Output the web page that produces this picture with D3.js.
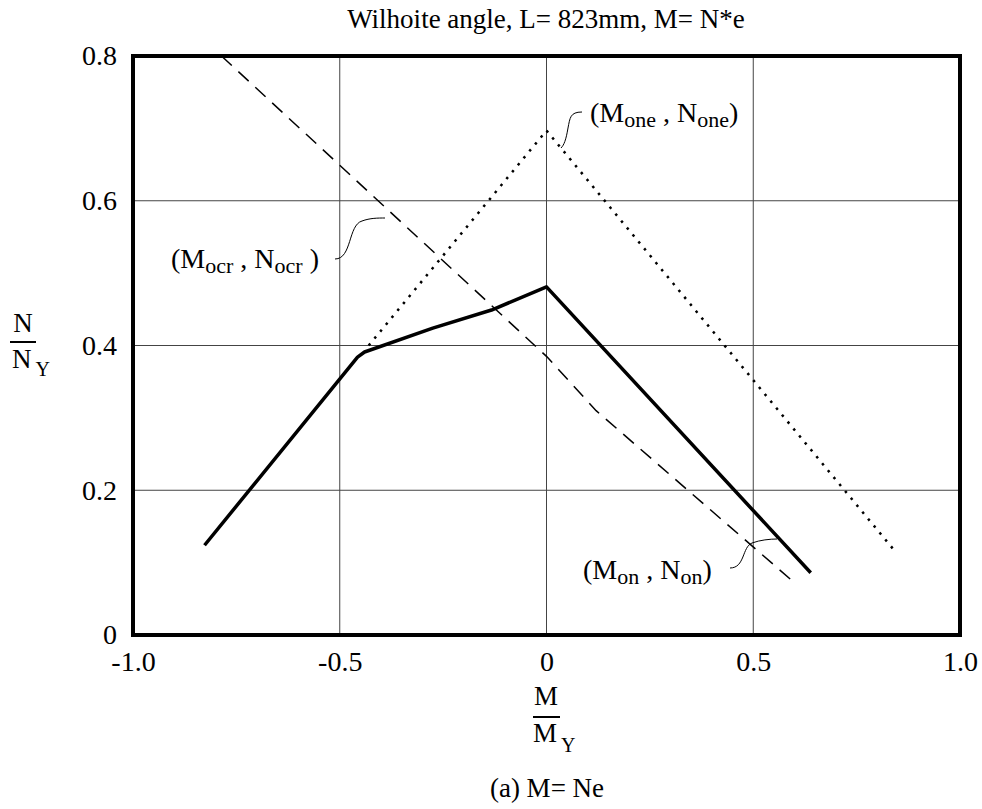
<!DOCTYPE html>
<html>
<head>
<meta charset="utf-8">
<script src="https://cdn.jsdelivr.net/npm/d3@7"></script>
<style>
  body { margin: 0; background: #fff; }
  text { font-family: "Liberation Serif", "Times New Roman", serif; fill: #000; }
</style>
</head>
<body>
<div id="chart"></div>
<script>
// data (M/My, N/Ny)
const xTicks = [-1, -0.5, 0, 0.5, 1];
const xTickLabels = ["-1.0", "-0.5", "0", "0.5", "1.0"];
const yTicks = [0, 0.2, 0.4, 0.6, 0.8];
const yTickLabels = ["0", "0.2", "0.4", "0.6", "0.8"];

// solid: interaction curve
const solidM = [-0.827, -0.457, -0.44, -0.275, -0.133, 0, 0.639];
const solidN = [0.124, 0.384, 0.391, 0.424, 0.449, 0.481, 0.086];
// dashed: (Mocr, Nocr) / (Mon, Non)
const dashM = [-0.786, 0, 0.12, 0.59];
const dashN = [0.8, 0.385, 0.31, 0.077];
// dotted: (Mone, None)
const dotM = [-0.43, 0, 0.841];
const dotN = [0.4, 0.697, 0.117];

const WIDTH = 982;
const HEIGHT = 809;

const svg = d3.select("#chart").append("svg")
  .attr("width", WIDTH)
  .attr("height", HEIGHT);

const x = d3.scaleLinear().domain([-1, 1]).range([133, 960]);
const y = d3.scaleLinear().domain([0, 0.8]).range([635, 56]);

// grid
svg.append("g")
  .selectAll("line.vg")
  .data(xTicks.slice(1, -1))
  .join("line")
  .attr("x1", d => x(d)).attr("x2", d => x(d))
  .attr("y1", y(0)).attr("y2", y(0.8))
  .attr("stroke", "#444").attr("stroke-width", 1);

svg.append("g")
  .selectAll("line.hg")
  .data(yTicks.slice(1, -1))
  .join("line")
  .attr("x1", x(-1)).attr("x2", x(1))
  .attr("y1", d => y(d)).attr("y2", d => y(d))
  .attr("stroke", "#444").attr("stroke-width", 1);

// axes (labels only, frame drawn separately)
const xAxis = svg.append("g")
  .attr("transform", `translate(0,${y(0)})`)
  .call(d3.axisBottom(x).tickValues(xTicks).tickSize(0).tickPadding(16)
    .tickFormat((d, i) => xTickLabels[i]));
xAxis.select(".domain").remove();
xAxis.selectAll("text").attr("font-size", 28).attr("font-family", "Liberation Serif");

const yAxis = svg.append("g")
  .attr("transform", `translate(${x(-1)},0)`)
  .call(d3.axisLeft(y).tickValues(yTicks).tickSize(0).tickPadding(16)
    .tickFormat((d, i) => yTickLabels[i]));
yAxis.select(".domain").remove();
yAxis.selectAll("text").attr("font-size", 28).attr("font-family", "Liberation Serif");

// curves
const line = d3.line().x(d => x(d[0])).y(d => y(d[1]));

svg.append("path")
  .datum(dashM.map((m, i) => [m, dashN[i]]))
  .attr("d", line)
  .attr("fill", "none").attr("stroke", "#000")
  .attr("stroke-width", 1.5).attr("stroke-dasharray", "14,9");

svg.append("path")
  .datum(dotM.map((m, i) => [m, dotN[i]]))
  .attr("d", line)
  .attr("fill", "none").attr("stroke", "#000")
  .attr("stroke-width", 2.5).attr("stroke-dasharray", "2.5,6.5");

svg.append("path")
  .datum(solidM.map((m, i) => [m, solidN[i]]))
  .attr("d", line)
  .attr("fill", "none").attr("stroke", "#000")
  .attr("stroke-width", 3.5).attr("stroke-linejoin", "round");

// frame
svg.append("rect")
  .attr("x", x(-1)).attr("y", y(0.8))
  .attr("width", x(1) - x(-1)).attr("height", y(0) - y(0.8))
  .attr("fill", "none").attr("stroke", "#000").attr("stroke-width", 4);

// annotation labels with subscripts
function pairLabel(px, py, sub, gap) {
  const t = svg.append("text").attr("x", px).attr("y", py).attr("font-size", 28);
  t.append("tspan").text("(M");
  t.append("tspan").attr("font-size", 22).attr("dy", 5).text(sub);
  t.append("tspan").attr("dy", -5).text(gap + ", N");
  t.append("tspan").attr("font-size", 22).attr("dy", 5).text(sub);
  t.append("tspan").attr("dy", -5).text(gap === "  " ? " )" : ")");
}
pairLabel(171, 268, "ocr", "  ");
pairLabel(590, 122, "one", " ");
pairLabel(583, 579, "on", " ");

const leaders = [
  "M335,259 C352,259 348,225 362,221 C370,218 378,218 385,218",
  "M582,112 C570,112 570,118 568,128 C566,140 564,145 561,148",
  "M730,568 C745,568 742,547 752,543 C760,540 770,539 777,539"
];
svg.selectAll("path.leader")
  .data(leaders)
  .join("path")
  .attr("class", "leader")
  .attr("d", d => d)
  .attr("fill", "none").attr("stroke", "#000").attr("stroke-width", 1);

// title
svg.append("text")
  .attr("x", 546).attr("y", 28)
  .attr("text-anchor", "middle").attr("font-size", 27)
  .text("Wilhoite angle, L= 823mm, M= N*e");

// y label N / N_Y
const yl = svg.append("g");
yl.append("text").attr("x", 23).attr("y", 332).attr("text-anchor", "middle")
  .attr("font-size", 27).text("N");
yl.append("line").attr("x1", 10).attr("x2", 36).attr("y1", 342).attr("y2", 342)
  .attr("stroke", "#000").attr("stroke-width", 2);
const yl2 = yl.append("text").attr("x", 12).attr("y", 368).attr("font-size", 27);
yl2.append("tspan").text("N");
yl2.append("tspan").attr("font-size", 20).attr("dx", 4).attr("dy", 8).text("Y");

// x label M / M_Y
const xl = svg.append("g");
xl.append("text").attr("x", 546).attr("y", 705).attr("text-anchor", "middle")
  .attr("font-size", 27).text("M");
xl.append("line").attr("x1", 533).attr("x2", 560).attr("y1", 717).attr("y2", 717)
  .attr("stroke", "#000").attr("stroke-width", 2);
const xl2 = xl.append("text").attr("x", 533).attr("y", 742).attr("font-size", 27);
xl2.append("tspan").text("M");
xl2.append("tspan").attr("font-size", 20).attr("dx", 4).attr("dy", 10).text("Y");

// caption
svg.append("text")
  .attr("x", 547).attr("y", 797)
  .attr("text-anchor", "middle").attr("font-size", 27)
  .text("(a) M= Ne");
</script>
</body>
</html>
